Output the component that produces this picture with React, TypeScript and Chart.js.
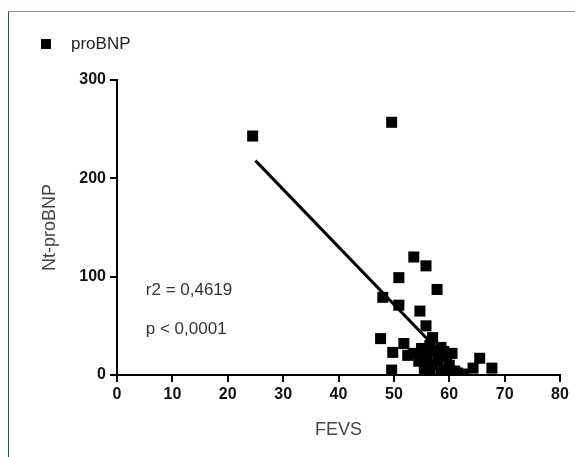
import { useEffect, useRef } from "react";
import { Chart, registerables } from "chart.js";

Chart.register(...registerables);

const seriesLabel = "proBNP";
const fevs = [
  24.5, 49.6, 53.6, 55.8, 50.9, 57.8, 48, 50.9, 54.7, 55.8, 57, 47.6, 51.8, 49.8, 49.6,
  65.5, 67.7, 64.3, 61.5,
  53.5, 54.5, 55, 55.5, 56, 56.5, 57, 57.5, 58, 58.5, 59, 59.5, 60, 60.5, 61, 56.5, 58.5,
  56, 55, 59, 60, 62.5, 52.5,
];
const proBNP = [
  243, 257, 120, 111, 99, 87, 79, 71, 65, 50, 38, 37, 32, 23, 5,
  17, 7, 7, 2,
  22, 14, 27, 6, 19, 30, 10, 24, 15, 28, 5, 19, 10, 22, 4, 2, 1,
  12, 17, 24, 3, 1, 20,
];
const fitX = [25, 62.3];
const fitY = [218, 0];
const annotationTexts = ["r2 = 0,4619", "p < 0,0001"];
const annotationX = [5.2, 5.2];
const annotationY = [86.5, 46.8];
const xTitle = "FEVS";
const yTitle = "Nt-proBNP";

const FONT = "'Liberation Sans', Arial, sans-serif";

const overlayPlugin = {
  id: "overlay",
  afterDraw(chart: any) {
    const { ctx, scales } = chart;
    ctx.save();
    // legend
    ctx.fillStyle = "#000";
    ctx.fillRect(41, 39, 10, 10);
    ctx.fillStyle = "#222";
    ctx.font = `17px ${FONT}`;
    ctx.textBaseline = "middle";
    ctx.textAlign = "left";
    ctx.fillText(chart.data.datasets[0].label, 71, 44);
    // annotations
    ctx.fillStyle = "#333";
    annotationTexts.forEach((t, i) => {
      const px = scales.x.getPixelForValue(annotationX[i]);
      const py = scales.y.getPixelForValue(annotationY[i]);
      ctx.fillText(t, px, py);
    });
    ctx.restore();
  },
};

export default function App() {
  const ref = useRef<HTMLCanvasElement | null>(null);

  useEffect(() => {
    if (!ref.current) return;
    const points = fevs.map((x, i) => ({ x, y: proBNP[i] }));
    const fit = fitX.map((x, i) => ({ x, y: fitY[i] }));
    const axisCommon = {
      grid: {
        drawOnChartArea: false,
        drawTicks: true,
        tickLength: 7,
        lineWidth: 2,
        color: "#000",
      },
      border: { display: true, color: "#000", width: 2 },
    };
    const chart = new Chart(ref.current, {
      type: "scatter",
      data: {
        datasets: [
          {
            label: seriesLabel,
            data: points,
            pointStyle: "rect",
            pointRadius: 7.8,
            backgroundColor: "#000",
            borderWidth: 0,
          },
          {
            label: "fit",
            data: fit,
            showLine: true,
            pointRadius: 0,
            borderColor: "#000",
            borderWidth: 3,
          } as any,
        ],
      },
      options: {
        animation: false,
        responsive: false,
        layout: { padding: { left: 35, right: 15, top: 80, bottom: 12 } },
        plugins: { legend: { display: false }, tooltip: { enabled: false } },
        scales: {
          x: {
            type: "linear",
            min: 0,
            max: 80,
            ...axisCommon,
            ticks: {
              stepSize: 10,
              color: "#111",
              padding: 3,
              font: { family: FONT, size: 16, weight: "bold" },
            },
            title: {
              display: true,
              text: xTitle,
              color: "#444",
              font: { family: FONT, size: 18 },
              padding: 4,
            },
            afterFit(scale: any) {
              scale.height = 70;
            },
          },
          y: {
            type: "linear",
            min: 0,
            max: 300,
            ...axisCommon,
            ticks: {
              stepSize: 100,
              color: "#111",
              padding: 4,
              font: { family: FONT, size: 16, weight: "bold" },
            },
            title: {
              display: true,
              text: yTitle,
              color: "#444",
              font: { family: FONT, size: 18 },
              padding: 4,
            },
            afterFit(scale: any) {
              scale.width = 82;
            },
          },
        },
      } as any,
      plugins: [overlayPlugin],
    });
    return () => chart.destroy();
  }, []);

  return (
    <div style={{ position: "fixed", left: 0, top: 0, width: 575, height: 457, background: "#fff" }}>
      <div
        style={{
          position: "absolute",
          left: 8,
          top: 11,
          width: 567,
          height: 446,
          borderLeft: "1.5px solid #2b4a7e",
          borderTop: "1px solid #7d93b5",
          boxSizing: "border-box",
        }}
      />
      <canvas ref={ref} width={575} height={457} style={{ position: "absolute", left: 0, top: 0 }} />
    </div>
  );
}
